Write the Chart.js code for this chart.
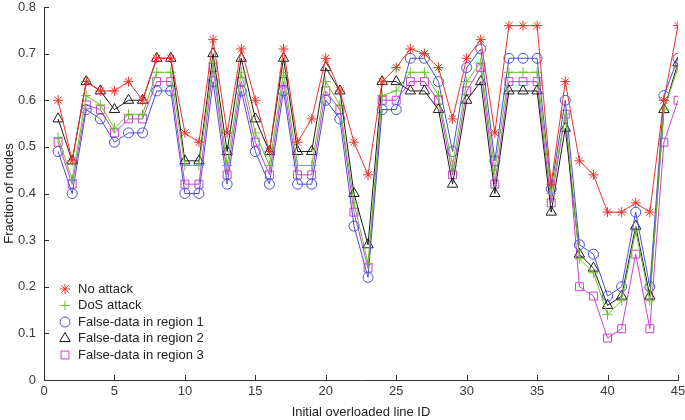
<!DOCTYPE html>
<html>
<head>
<meta charset="utf-8">
<script src="https://cdn.jsdelivr.net/npm/chart.js@4/dist/chart.umd.min.js"></script>
<style>
  html, body { margin: 0; padding: 0; background: #fff; }
  #wrap { width: 685px; height: 420px; position: relative; }
</style>
</head>
<body>
<div id="wrap"><canvas id="chart"></canvas></div>
<script>
// overloaded line IDs (x axis)
const lineIds = [1, 2, 3, 4, 5, 6, 7, 8, 9, 10, 11, 12, 13, 14, 15, 16, 17, 18, 19, 20, 21, 22, 23,
  24, 25, 26, 27, 28, 29, 30, 31, 32, 33, 34, 35, 36, 37, 38, 39, 40, 41, 42, 43, 44, 45];

const noAttack = [0.60, 0.47, 0.64, 0.62, 0.62, 0.64, 0.60, 0.69, 0.69, 0.53, 0.51, 0.73, 0.53, 0.71, 0.60,
  0.49, 0.71, 0.51, 0.56, 0.69, 0.62, 0.51, 0.44, 0.64, 0.67, 0.71, 0.70, 0.67, 0.56, 0.69,
  0.73, 0.53, 0.76, 0.76, 0.76, 0.42, 0.64, 0.47, 0.44, 0.36, 0.36, 0.38, 0.36, 0.60, 0.76];

const dosAttack = [0.52, 0.43, 0.61, 0.59, 0.54, 0.57, 0.57, 0.66, 0.66, 0.46, 0.46, 0.68, 0.46, 0.66, 0.53,
  0.46, 0.66, 0.46, 0.46, 0.64, 0.59, 0.38, 0.25, 0.61, 0.62, 0.66, 0.66, 0.61, 0.46, 0.64,
  0.68, 0.45, 0.66, 0.66, 0.66, 0.40, 0.57, 0.26, 0.23, 0.14, 0.17, 0.32, 0.17, 0.58, 0.67];

const falseRegion1 = [0.49, 0.40, 0.58, 0.56, 0.51, 0.53, 0.53, 0.62, 0.62, 0.40, 0.40, 0.64, 0.42, 0.62, 0.49,
  0.42, 0.62, 0.42, 0.42, 0.60, 0.56, 0.33, 0.22, 0.58, 0.58, 0.69, 0.69, 0.64, 0.49, 0.67,
  0.71, 0.47, 0.69, 0.69, 0.69, 0.41, 0.60, 0.29, 0.27, 0.18, 0.20, 0.36, 0.20, 0.61, 0.69];

const falseRegion2 = [0.56, 0.47, 0.64, 0.62, 0.58, 0.60, 0.60, 0.69, 0.69, 0.47, 0.47, 0.70, 0.49, 0.69, 0.56,
  0.49, 0.69, 0.49, 0.49, 0.67, 0.62, 0.40, 0.29, 0.64, 0.64, 0.62, 0.62, 0.58, 0.42, 0.60,
  0.64, 0.40, 0.62, 0.62, 0.62, 0.36, 0.54, 0.27, 0.24, 0.16, 0.18, 0.33, 0.18, 0.58, 0.68];

const falseRegion3 = [0.51, 0.42, 0.59, 0.58, 0.53, 0.56, 0.56, 0.64, 0.64, 0.42, 0.42, 0.67, 0.44, 0.64, 0.51,
  0.44, 0.64, 0.44, 0.44, 0.62, 0.58, 0.36, 0.24, 0.60, 0.60, 0.64, 0.64, 0.60, 0.44, 0.62,
  0.67, 0.42, 0.64, 0.64, 0.64, 0.38, 0.57, 0.20, 0.18, 0.09, 0.11, 0.27, 0.11, 0.51, 0.60];

const seriesNames = ['No attack', 'DoS attack', 'False-data in region 1', 'False-data in region 2', 'False-data in region 3'];

const FONT = '"Liberation Sans", Arial, sans-serif';
const TXT = '#3a3a3a';

function series(label, values, color, style, radius) {
  return {
    label,
    data: lineIds.map((id, i) => ({ x: id, y: values[i] })),
    borderColor: color,
    backgroundColor: 'rgba(0,0,0,0)',
    borderWidth: 1,
    pointStyle: style,
    pointRadius: radius,
    pointBorderWidth: 1,
    pointBorderColor: color,
    pointBackgroundColor: 'rgba(0,0,0,0)',
    tension: 0,
  };
}

const datasets = [
  series(seriesNames[0], noAttack, '#e8322c', 'star', 5),
  series(seriesNames[1], dosAttack, '#6cbf2a', 'cross', 5),
  series(seriesNames[2], falseRegion1, '#4a4fd0', 'circle', 5),
  series(seriesNames[3], falseRegion2, '#1a1a1a', 'triangle', 6),
  series(seriesNames[4], falseRegion3, '#cc3fcc', 'rect', 5.6),
];

// small inward tick marks, like the original figure
const inwardTicks = {
  id: 'inwardTicks',
  afterDraw(chart) {
    const { ctx, scales: { x, y } } = chart;
    ctx.save();
    ctx.strokeStyle = '#333';
    ctx.lineWidth = 1;
    x.ticks.forEach((t) => {
      const px = Math.round(x.getPixelForValue(t.value)) + 0.5;
      ctx.beginPath();
      ctx.moveTo(px, y.bottom);
      ctx.lineTo(px, y.bottom - 5);
      ctx.stroke();
    });
    y.ticks.forEach((t) => {
      const py = Math.round(y.getPixelForValue(t.value)) + 0.5;
      ctx.beginPath();
      ctx.moveTo(x.left, py);
      ctx.lineTo(x.left + 5, py);
      ctx.stroke();
    });
    ctx.restore();
  },
};

// legend inside the plot area, lower left
const insideLegend = {
  id: 'insideLegend',
  afterDraw(chart) {
    const ctx = chart.ctx;
    const startY = 289;
    const step = 16.5;
    ctx.save();
    ctx.font = '13px ' + FONT;
    ctx.textBaseline = 'middle';
    chart.data.datasets.forEach((ds, i) => {
      const yy = startY + i * step;
      ctx.strokeStyle = ds.borderColor;
      ctx.fillStyle = 'rgba(0,0,0,0)';
      ctx.lineWidth = 1;
      if (Chart.helpers && Chart.helpers.drawPoint) {
        Chart.helpers.drawPoint(ctx, {
          pointStyle: ds.pointStyle, radius: ds.pointRadius, rotation: 0, borderWidth: 1,
        }, 65, yy);
      }
      ctx.fillStyle = '#222';
      ctx.fillText(ds.label, 78, yy);
    });
    ctx.restore();
  },
};

new Chart(document.getElementById('chart'), {
  type: 'line',
  data: { datasets },
  options: {
    responsive: true,
    maintainAspectRatio: false,
    animation: false,
    layout: { padding: { top: 5, right: 6, left: 2, bottom: 0 } },
    plugins: { legend: { display: false }, tooltip: { enabled: false } },
    scales: {
      x: {
        type: 'linear',
        min: 0,
        max: 45,
        ticks: { stepSize: 5, color: TXT, font: { family: FONT, size: 13 }, padding: 4, maxRotation: 0 },
        grid: { display: false, drawTicks: false },
        border: { display: true, color: '#333', width: 1 },
        title: { display: true, text: 'Initial overloaded line ID', color: '#222', font: { family: FONT, size: 13 }, padding: { top: 5, bottom: 0 } },
        afterFit(scale) {
          scale.height = 40;
          scale.paddingLeft = 0;
          scale.paddingRight = 0;
        },
      },
      y: {
        min: 0,
        max: 0.8,
        ticks: {
          stepSize: 0.1,
          color: TXT,
          font: { family: FONT, size: 13 },
          padding: 8,
          callback: (v) => (v === 0 ? '0' : Number(v).toFixed(1)),
        },
        grid: { display: false, drawTicks: false },
        border: { display: true, color: '#333', width: 1 },
        title: { display: true, text: 'Fraction of nodes', color: '#222', font: { family: FONT, size: 13 }, padding: { top: 0, bottom: 0 } },
        afterFit(scale) {
          scale.width = 42;
          scale.paddingTop = 0;
          scale.paddingBottom = 0;
        },
      },
    },
  },
  plugins: [inwardTicks, insideLegend],
});
</script>
</body>
</html>
